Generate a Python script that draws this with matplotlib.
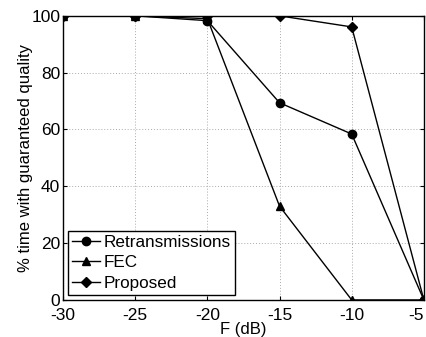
import matplotlib
matplotlib.use('Agg')
import matplotlib.pyplot as plt

plt.rcParams['font.family'] = ['Liberation Sans', 'DejaVu Sans']
plt.rcParams['axes.unicode_minus'] = False

f_db = [-30, -25, -20, -15, -10, -5]
retrans = [100, 100, 98.3, 69.4, 58.4, 0]
fec = [100, 100, 99.0, 33.0, 0, 0]
proposed = [100, 100, 100, 100, 96.1, 0]

fig = plt.figure(figsize=(4.26, 3.37), dpi=100)
ax = fig.add_axes([0.148, 0.110, 0.847, 0.843])

ax.plot(f_db, retrans, 'k-', marker='o', ms=6, lw=1, label='Retransmissions')
ax.plot(f_db, fec, 'k-', marker='^', ms=6, lw=1, label='FEC')
ax.plot(f_db, proposed, 'k-', marker='D', ms=5, lw=1, label='Proposed')

ax.set_xlim(-30, -5)
ax.set_ylim(0, 100)
ax.set_xticks([-30, -25, -20, -15, -10, -5])
ax.set_yticks([0, 20, 40, 60, 80, 100])
ax.grid(True, linestyle=(0, (1, 2)), color='#aaaaaa', lw=0.7)
ax.tick_params(direction='in', labelsize=12.5, length=3, top=True, right=True)
ax.tick_params(axis='x', pad=6)
ax.tick_params(axis='y', pad=2)
for s in ax.spines.values():
    s.set_linewidth(1)
ax.get_xticklabels()[-1].set_horizontalalignment('right')

ax.set_xlabel('F (dB)', fontsize=12, labelpad=-1)
ax.set_ylabel('% time with guaranteed quality', fontsize=12, labelpad=-1)

leg = ax.legend(loc='lower left', fontsize=12.3, frameon=True, fancybox=False,
                edgecolor='black', framealpha=1, handlelength=1.6,
                handletextpad=0.2, borderpad=0.25, labelspacing=0.3,
                borderaxespad=0.3)
leg.get_frame().set_linewidth(1)

fig.savefig('out.png', dpi=100)
